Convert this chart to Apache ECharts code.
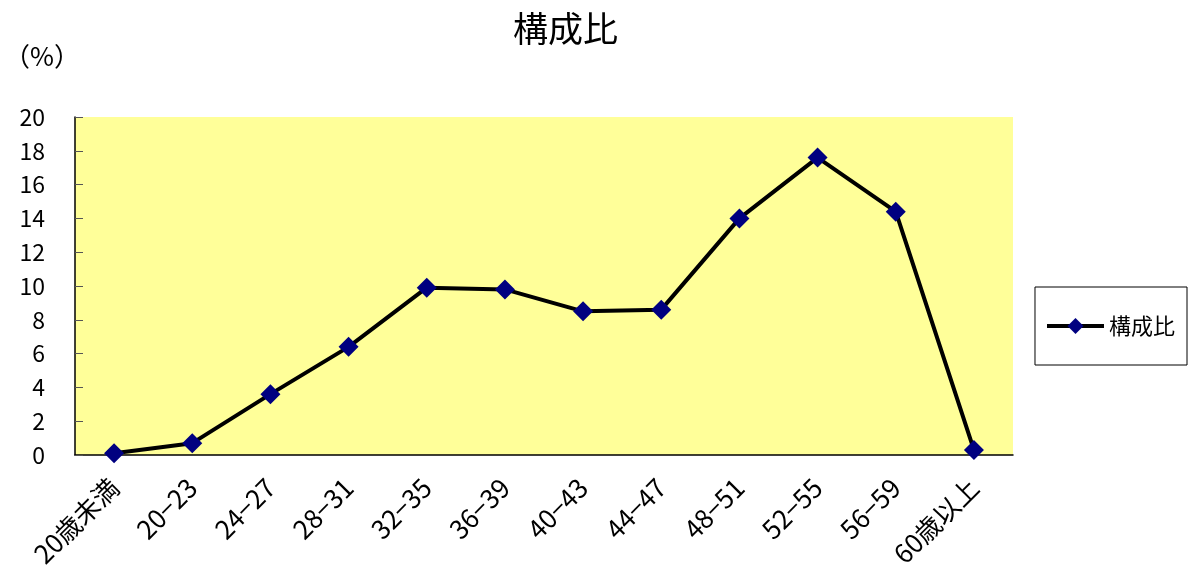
<!DOCTYPE html>
<html>
<head>
<meta charset="utf-8">
<script src="https://cdn.jsdelivr.net/npm/echarts@6/dist/echarts.min.js"></script>
<style>
  html, body { margin: 0; padding: 0; background: #fff; }
  #chart { width: 1192px; height: 579px; }
</style>
</head>
<body>
<div id="chart"></div>
<script>
// 年齢階層と構成比(%)
const categories = ["20歳未満", "20−23", "24−27", "28−31", "32−35", "36−39", "40−43", "44−47", "48−51", "52−55", "56−59", "60歳以上"];
const ratios = [0.1, 0.7, 3.6, 6.4, 9.9, 9.8, 8.5, 8.6, 14.0, 17.6, 14.4, 0.3];
const seriesName = "構成比";

const font = '"Noto Sans CJK JP", "Noto Sans", sans-serif';
const myChart = echarts.init(document.getElementById("chart"));

myChart.setOption({
  animation: false,
  textStyle: { fontFamily: font },
  title: {
    text: seriesName,
    left: 508,
    top: 6,
    textStyle: { fontSize: 35, fontWeight: "normal", color: "#000", fontFamily: font }
  },
  graphic: [
    {
      type: "text",
      left: 4,
      top: 43,
      style: { text: "（%）", fontSize: 26, fill: "#000", fontFamily: font }
    }
  ],
  legend: {
    right: 5,
    top: 287,
    orient: "vertical",
    width: 155,
    height: 80,
    padding: [28, 12, 28, 10],
    borderColor: "#000",
    borderWidth: 1,
    itemWidth: 57,
    itemHeight: 20,
    itemGap: 10,
    textStyle: { fontSize: 22, color: "#000", fontFamily: font },
    data: [{ name: seriesName, lineStyle: { width: 4, color: "#000" } }]
  },
  grid: {
    left: 75,
    top: 117,
    width: 938,
    height: 338,
    show: true,
    backgroundColor: "#ffff99",
    borderWidth: 0
  },
  xAxis: {
    type: "category",
    data: categories,
    boundaryGap: true,
    axisLine: { lineStyle: { color: "#000", width: 1.5 } },
    axisTick: { inside: true, length: 8, lineStyle: { color: "#000" } },
    axisLabel: {
      rotate: 45,
      interval: 0,
      fontSize: 26,
      color: "#000",
      margin: 28,
      fontFamily: font
    },
    splitLine: { show: false }
  },
  yAxis: {
    type: "value",
    min: 0,
    max: 20,
    interval: 2,
    axisLine: { show: true, lineStyle: { color: "#000", width: 1.5 } },
    axisTick: { show: true, inside: true, length: 8, lineStyle: { color: "#555" } },
    axisLabel: { fontSize: 23, color: "#000", margin: 30, fontFamily: font },
    splitLine: { show: false }
  },
  series: [
    {
      name: seriesName,
      type: "line",
      data: ratios,
      symbol: "diamond",
      symbolSize: 20,
      lineStyle: { color: "#000", width: 4 },
      itemStyle: { color: "#000080", borderWidth: 0 },
      z: 3
    }
  ]
});
</script>
</body>
</html>
